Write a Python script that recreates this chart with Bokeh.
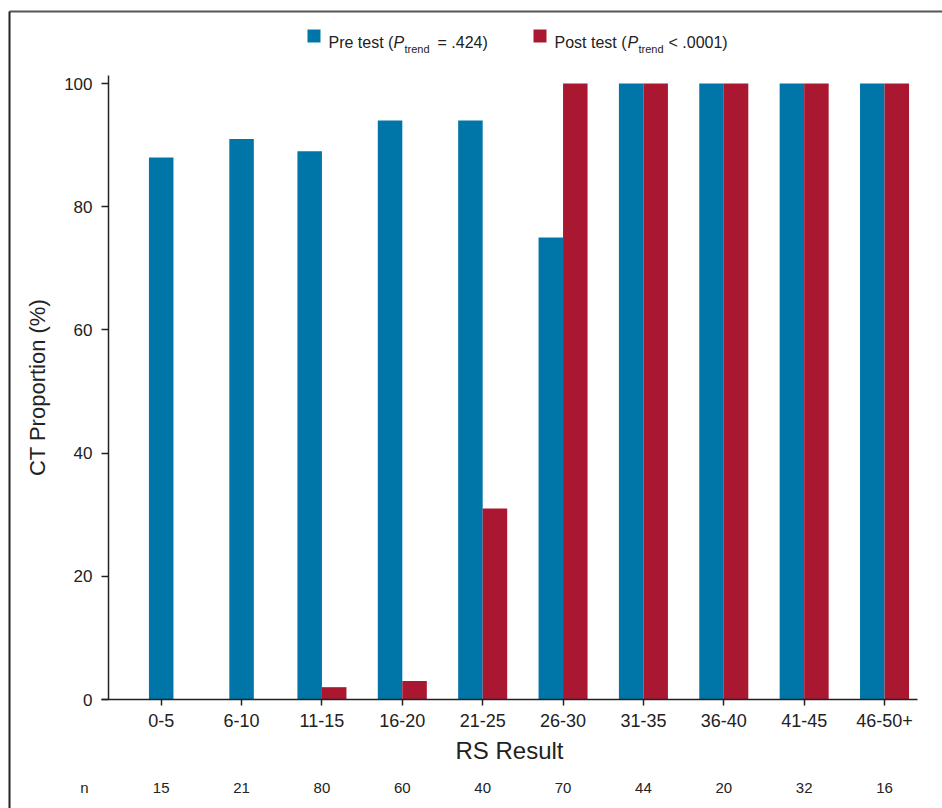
from bokeh.plotting import figure
from bokeh.models import FixedTicker, ColumnDataSource
from bokeh.core.properties import value
from bokeh.embed import file_html
from bokeh.resources import INLINE

# ---------------- data ----------------
categories = ["0-5", "6-10", "11-15", "16-20", "21-25", "26-30", "31-35", "36-40", "41-45", "46-50+"]
pre_test = [88, 91, 89, 94, 94, 75, 100, 100, 100, 100]
post_test = [None, None, 2, 3, 31, 100, 100, 100, 100, 100]
n_values = [15, 21, 80, 60, 40, 70, 44, 20, 32, 16]
y_ticks = [0, 20, 40, 60, 80, 100]
series_names = ["Pre test", "Post test"]
p_trend = ["= .424)", "< .0001)"]

# ---------------- style / layout ----------------
BLUE = "#0076A8"
RED = "#AA1730"
INK = "#222222"
REG = "Liberation Sans"
BAR_W = 0.305
W, H = 942, 808

# pixel geometry of the data area (canvas pixels)
X_C0, PX_PER_X = 160.7, 80.37      # px of first category, px per category
Y_ZERO, PX_PER_Y = 699.0, 6.16     # px of value 0, px per unit


def dx(px):
    return (px - X_C0) / PX_PER_X


def dy(py):
    return (Y_ZERO - py) / PX_PER_Y


p = figure(width=W, height=H, x_range=(dx(0), dx(W)), y_range=(dy(H), dy(0)),
           output_backend="svg", toolbar_location=None, title=None,
           min_border_left=0, min_border_right=0, min_border_top=0, min_border_bottom=0)
p.outline_line_color = None
p.xgrid.visible = False
p.ygrid.visible = False
p.background_fill_color = "white"
p.border_fill_color = "white"

# bars
idx = list(range(len(categories)))
pre_x = [i - BAR_W / 2 if post_test[i] is not None else i for i in idx]
pre_src = ColumnDataSource(dict(x=pre_x, top=pre_test))
p.vbar(x="x", top="top", bottom=0, width=BAR_W, source=pre_src,
       fill_color=BLUE, line_color=None)
post_idx = [i for i in idx if post_test[i] is not None]
post_src = ColumnDataSource(dict(x=[i + BAR_W / 2 for i in post_idx],
                                 top=[post_test[i] for i in post_idx]))
p.vbar(x="x", top="top", bottom=0, width=BAR_W, source=post_src,
       fill_color=RED, line_color=None)

# x axis (fixed at value 0)
xa = p.xaxis[0]
xa.fixed_location = 0
xa.bounds = (dx(101), dx(917))
xa.ticker = FixedTicker(ticks=idx)
xa.major_label_overrides = {i: c for i, c in zip(idx, categories)}
xa.minor_tick_line_color = None
xa.major_tick_in = 0
xa.major_tick_out = 6
xa.major_tick_line_color = INK
xa.major_tick_line_width = 1.5
xa.axis_line_color = INK
xa.axis_line_width = 1.5
xa.major_label_text_font = REG
xa.major_label_text_font_size = "18px"
xa.major_label_text_color = INK
xa.major_label_standoff = 8
xa.axis_label = "RS Result"
xa.axis_label_text_font = REG
xa.axis_label_text_font_size = "24px"
xa.axis_label_text_font_style = "normal"
xa.axis_label_text_color = INK
xa.axis_label_standoff = 7

# y axis (fixed at the left edge of the data area)
ya = p.yaxis[0]
ya.fixed_location = dx(108)
ya.bounds = (0, dy(75))
ya.ticker = FixedTicker(ticks=y_ticks)
ya.minor_tick_line_color = None
ya.major_tick_in = 0
ya.major_tick_out = 7
ya.major_tick_line_color = INK
ya.major_tick_line_width = 1.5
ya.axis_line_color = INK
ya.axis_line_width = 1.5
ya.major_label_text_font = REG
ya.major_label_text_font_size = "17px"
ya.major_label_text_color = INK
ya.major_label_standoff = 9
ya.axis_label = "CT Proportion (%)"
ya.axis_label_text_font = REG
ya.axis_label_text_font_size = "22px"
ya.axis_label_text_font_style = "normal"
ya.axis_label_text_color = INK
ya.axis_label_standoff = 11

# n row
p.text(x=[dx(84)], y=[dy(787)], text=["n"], text_align="center", text_baseline="middle",
       text_font=value(REG), text_font_size="15px", text_color=INK)
p.text(x=idx, y=[dy(787)] * len(idx), text=[str(v) for v in n_values],
       text_align="center", text_baseline="middle",
       text_font=value(REG), text_font_size="15px", text_color=INK)

# legend (manual, for the italic P with subscript)
legend_specs = [
    (BLUE, 307, 328, 393, 404, 437, series_names[0], p_trend[0]),
    (RED, 533, 554, 627, 638, 668, series_names[1], p_trend[1]),
]
for col, sq, tx, px_, sub, rest, name, pt in legend_specs:
    p.quad(left=[dx(sq)], right=[dx(sq + 13)], top=[dy(29)], bottom=[dy(42)],
           fill_color=col, line_color=None)
    p.text(x=[dx(tx), dx(rest)], y=[dy(42), dy(42)], text=[name + " (", pt],
           text_align="left", text_baseline="alphabetic",
           text_font=value(REG), text_font_size="16px", text_color=INK)
    p.text(x=[dx(px_)], y=[dy(42)], text=["P"], text_align="left", text_baseline="alphabetic",
           text_font=value(REG), text_font_style="italic", text_font_size="16px", text_color=INK)
    p.text(x=[dx(sub)], y=[dy(48)], text=["trend"], text_align="left", text_baseline="alphabetic",
           text_font=value(REG), text_font_size="11px", text_color=INK)

# outer frame (top and left edges visible)
p.segment(x0=[dx(9)], y0=[dy(11)], x1=[dx(W + 5)], y1=[dy(11)], line_color="#555555", line_width=2)
p.segment(x0=[dx(9)], y0=[dy(11)], x1=[dx(9)], y1=[dy(H + 5)], line_color="#222222", line_width=2)

open("out.html", "w").write(file_html(p, INLINE))
